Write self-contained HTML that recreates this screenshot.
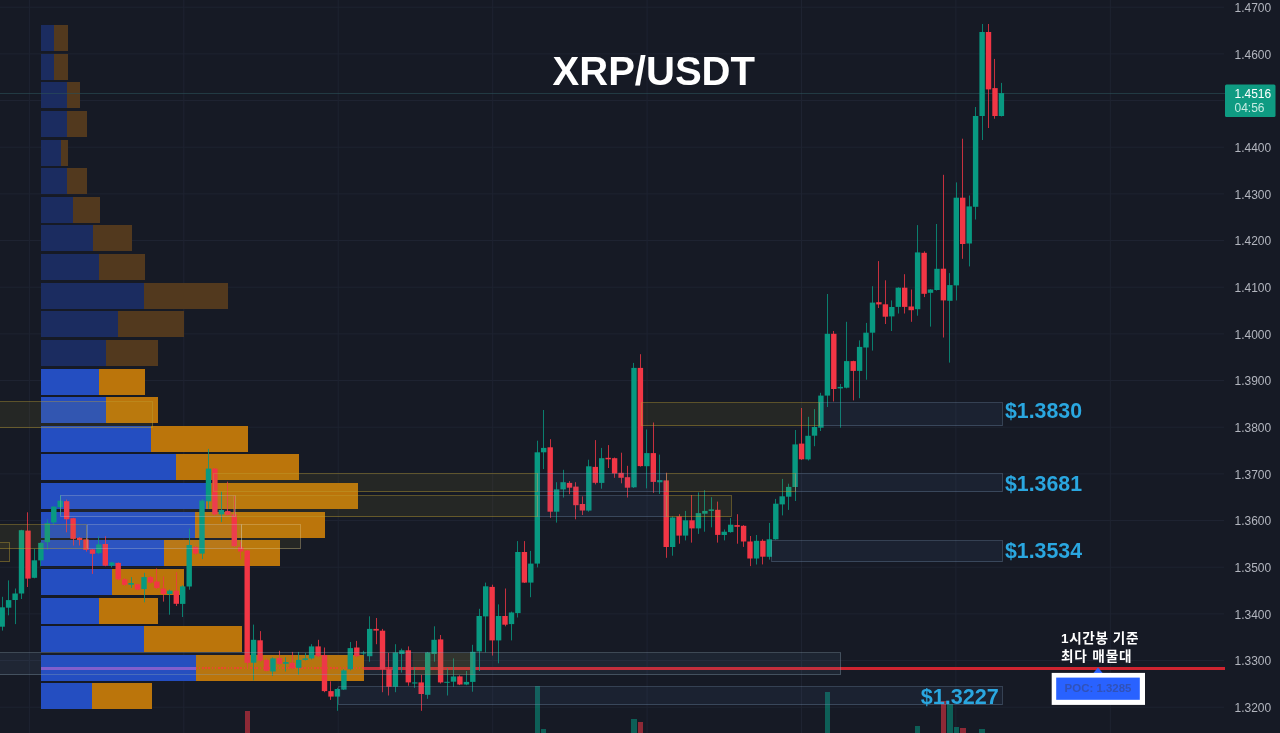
<!DOCTYPE html><html><head><meta charset="utf-8"><title>XRP/USDT</title>
<style>html,body{margin:0;padding:0;background:#161a25;overflow:hidden}svg{display:block}text{font-family:"Liberation Sans","Noto Sans CJK KR",sans-serif}</style></head><body>
<svg width="1280" height="733" viewBox="0 0 1280 733" shape-rendering="crispEdges">
<rect width="1280" height="733" fill="#161a25"/>
<g stroke="#1e2331" stroke-width="1" shape-rendering="auto">
<line x1="0" y1="7.2" x2="1224" y2="7.2"/>
<line x1="0" y1="53.9" x2="1224" y2="53.9"/>
<line x1="0" y1="100.5" x2="1224" y2="100.5"/>
<line x1="0" y1="147.2" x2="1224" y2="147.2"/>
<line x1="0" y1="193.9" x2="1224" y2="193.9"/>
<line x1="0" y1="240.5" x2="1224" y2="240.5"/>
<line x1="0" y1="287.2" x2="1224" y2="287.2"/>
<line x1="0" y1="333.9" x2="1224" y2="333.9"/>
<line x1="0" y1="380.5" x2="1224" y2="380.5"/>
<line x1="0" y1="427.2" x2="1224" y2="427.2"/>
<line x1="0" y1="473.9" x2="1224" y2="473.9"/>
<line x1="0" y1="520.5" x2="1224" y2="520.5"/>
<line x1="0" y1="567.2" x2="1224" y2="567.2"/>
<line x1="0" y1="613.9" x2="1224" y2="613.9"/>
<line x1="0" y1="660.5" x2="1224" y2="660.5"/>
<line x1="0" y1="707.2" x2="1224" y2="707.2"/>
<line x1="29.4" y1="0" x2="29.4" y2="733"/>
<line x1="183.8" y1="0" x2="183.8" y2="733"/>
<line x1="338.2" y1="0" x2="338.2" y2="733"/>
<line x1="492.7" y1="0" x2="492.7" y2="733"/>
<line x1="647.1" y1="0" x2="647.1" y2="733"/>
<line x1="801.5" y1="0" x2="801.5" y2="733"/>
<line x1="955.9" y1="0" x2="955.9" y2="733"/>
<line x1="1110.3" y1="0" x2="1110.3" y2="733"/>
</g>
<rect x="41" y="25.1" width="13" height="26.0" fill="#1b2c60"/>
<rect x="54" y="25.1" width="14" height="26.0" fill="#52391e"/>
<rect x="41" y="53.7" width="13" height="26.0" fill="#1b2c60"/>
<rect x="54" y="53.7" width="14" height="26.0" fill="#52391e"/>
<rect x="41" y="82.3" width="26" height="26.0" fill="#1b2c60"/>
<rect x="67" y="82.3" width="13" height="26.0" fill="#52391e"/>
<rect x="41" y="111.0" width="26" height="26.0" fill="#1b2c60"/>
<rect x="67" y="111.0" width="20" height="26.0" fill="#52391e"/>
<rect x="41" y="139.6" width="20" height="26.0" fill="#1b2c60"/>
<rect x="61" y="139.6" width="7" height="26.0" fill="#52391e"/>
<rect x="41" y="168.2" width="26" height="26.0" fill="#1b2c60"/>
<rect x="67" y="168.2" width="20" height="26.0" fill="#52391e"/>
<rect x="41" y="196.8" width="32" height="26.0" fill="#1b2c60"/>
<rect x="73" y="196.8" width="27" height="26.0" fill="#52391e"/>
<rect x="41" y="225.4" width="51.5" height="26.0" fill="#1b2c60"/>
<rect x="92.5" y="225.4" width="39.5" height="26.0" fill="#52391e"/>
<rect x="41" y="254.1" width="58" height="26.0" fill="#1b2c60"/>
<rect x="99" y="254.1" width="46" height="26.0" fill="#52391e"/>
<rect x="41" y="282.7" width="103" height="26.0" fill="#1b2c60"/>
<rect x="144" y="282.7" width="84" height="26.0" fill="#52391e"/>
<rect x="41" y="311.3" width="77" height="26.0" fill="#1b2c60"/>
<rect x="118" y="311.3" width="66" height="26.0" fill="#52391e"/>
<rect x="41" y="339.9" width="64.5" height="26.0" fill="#1b2c60"/>
<rect x="105.5" y="339.9" width="52.5" height="26.0" fill="#52391e"/>
<rect x="41" y="368.5" width="58" height="26.0" fill="#244ec1"/>
<rect x="99" y="368.5" width="46" height="26.0" fill="#bb750b"/>
<rect x="41" y="397.2" width="64.5" height="26.0" fill="#244ec1"/>
<rect x="105.5" y="397.2" width="52.5" height="26.0" fill="#bb750b"/>
<rect x="41" y="425.8" width="110" height="26.0" fill="#244ec1"/>
<rect x="151" y="425.8" width="97" height="26.0" fill="#bb750b"/>
<rect x="41" y="454.4" width="135" height="26.0" fill="#244ec1"/>
<rect x="176" y="454.4" width="123" height="26.0" fill="#bb750b"/>
<rect x="41" y="483.0" width="165" height="26.0" fill="#244ec1"/>
<rect x="206" y="483.0" width="151.5" height="26.0" fill="#bb750b"/>
<rect x="41" y="511.6" width="154" height="26.0" fill="#244ec1"/>
<rect x="195" y="511.6" width="130" height="26.0" fill="#bb750b"/>
<rect x="41" y="540.3" width="122.5" height="26.0" fill="#244ec1"/>
<rect x="163.5" y="540.3" width="116.5" height="26.0" fill="#bb750b"/>
<rect x="41" y="568.9" width="71" height="26.0" fill="#244ec1"/>
<rect x="112" y="568.9" width="72" height="26.0" fill="#bb750b"/>
<rect x="41" y="597.5" width="58" height="26.0" fill="#244ec1"/>
<rect x="99" y="597.5" width="58.5" height="26.0" fill="#bb750b"/>
<rect x="41" y="626.1" width="103" height="26.0" fill="#244ec1"/>
<rect x="144" y="626.1" width="98" height="26.0" fill="#bb750b"/>
<rect x="41" y="654.7" width="154.5" height="26.0" fill="#244ec1"/>
<rect x="195.5" y="654.7" width="168" height="26.0" fill="#bb750b"/>
<rect x="41" y="683.4" width="51" height="26.0" fill="#244ec1"/>
<rect x="92" y="683.4" width="59.5" height="26.0" fill="#bb750b"/>
<rect x="41" y="666.9" width="154.5" height="2.6" fill="#8a5fd0" opacity="0.95"/>
<line x1="195.5" y1="668.2" x2="363.5" y2="668.2" stroke="#f2452c" stroke-width="1.8" stroke-dasharray="1.6 1.6" opacity="0.9"/>
<rect x="363.5" y="666.9" width="861.5" height="2.6" fill="#cf2430"/>
<line x1="0" y1="93.5" x2="1225" y2="93.5" stroke="#2a5058" stroke-width="1" opacity="0.6"/>
<rect x="244.5" y="711.0" width="5.4" height="22.0" fill="rgba(242,54,69,0.55)"/>
<rect x="534.6" y="686.0" width="5.4" height="47.0" fill="rgba(8,153,129,0.55)"/>
<rect x="541.0" y="729.0" width="5.4" height="4.0" fill="rgba(8,153,129,0.55)"/>
<rect x="631.3" y="719.0" width="5.4" height="14.0" fill="rgba(8,153,129,0.55)"/>
<rect x="637.7" y="722.0" width="5.4" height="11.0" fill="rgba(242,54,69,0.55)"/>
<rect x="824.7" y="692.0" width="5.4" height="41.0" fill="rgba(8,153,129,0.55)"/>
<rect x="914.9" y="726.0" width="5.4" height="7.0" fill="rgba(8,153,129,0.55)"/>
<rect x="940.7" y="700.5" width="5.4" height="32.5" fill="rgba(242,54,69,0.55)"/>
<rect x="947.1" y="704.0" width="5.4" height="29.0" fill="rgba(8,153,129,0.55)"/>
<rect x="953.6" y="727.0" width="5.4" height="6.0" fill="rgba(8,153,129,0.55)"/>
<rect x="960.1" y="728.0" width="5.4" height="5.0" fill="rgba(242,54,69,0.55)"/>
<rect x="979.4" y="729.0" width="5.4" height="4.0" fill="rgba(8,153,129,0.55)"/>
<g shape-rendering="auto">
<rect x="2.0" y="596.8" width="1" height="33.8" fill="#089981" opacity="0.8"/>
<rect x="-0.5" y="607.3" width="5.4" height="19.4" fill="#089981"/>
<rect x="8.0" y="580.4" width="1" height="34.9" fill="#089981" opacity="0.8"/>
<rect x="5.9" y="600.1" width="5.4" height="7.6" fill="#089981"/>
<rect x="15.0" y="588.5" width="1" height="35.6" fill="#089981" opacity="0.8"/>
<rect x="12.4" y="593.5" width="5.4" height="6.5" fill="#089981"/>
<rect x="21.0" y="529.8" width="1" height="69.2" fill="#089981" opacity="0.8"/>
<rect x="18.8" y="530.2" width="5.4" height="63.3" fill="#089981"/>
<rect x="27.0" y="512.3" width="1" height="74.7" fill="#f23645" opacity="0.8"/>
<rect x="25.3" y="530.6" width="5.4" height="48.0" fill="#f23645"/>
<rect x="34.0" y="548.8" width="1" height="29.5" fill="#089981" opacity="0.8"/>
<rect x="31.7" y="560.3" width="5.4" height="17.5" fill="#089981"/>
<rect x="40.0" y="542.4" width="1" height="23.8" fill="#089981" opacity="0.8"/>
<rect x="38.2" y="542.9" width="5.4" height="17.5" fill="#089981"/>
<rect x="47.0" y="519.3" width="1" height="30.6" fill="#089981" opacity="0.8"/>
<rect x="44.6" y="523.2" width="5.4" height="19.0" fill="#089981"/>
<rect x="53.0" y="506.2" width="1" height="18.6" fill="#089981" opacity="0.8"/>
<rect x="51.1" y="506.6" width="5.4" height="15.9" fill="#089981"/>
<rect x="60.0" y="495.3" width="1" height="19.6" fill="#089981" opacity="0.8"/>
<rect x="57.5" y="500.7" width="5.4" height="6.5" fill="#089981"/>
<rect x="66.0" y="499.6" width="1" height="32.7" fill="#f23645" opacity="0.8"/>
<rect x="64.0" y="501.2" width="5.4" height="18.1" fill="#f23645"/>
<rect x="73.0" y="517.8" width="1" height="27.7" fill="#f23645" opacity="0.8"/>
<rect x="70.4" y="518.2" width="5.4" height="20.7" fill="#f23645"/>
<rect x="79.0" y="537.2" width="1" height="8.3" fill="#f23645" opacity="0.8"/>
<rect x="76.9" y="537.8" width="5.4" height="2.2" fill="#f23645"/>
<rect x="86.0" y="537.8" width="1" height="13.8" fill="#f23645" opacity="0.8"/>
<rect x="83.3" y="539.4" width="5.4" height="10.5" fill="#f23645"/>
<rect x="92.0" y="549.0" width="1" height="24.9" fill="#f23645" opacity="0.8"/>
<rect x="89.8" y="549.4" width="5.4" height="4.4" fill="#f23645"/>
<rect x="98.0" y="536.3" width="1" height="17.9" fill="#089981" opacity="0.8"/>
<rect x="96.2" y="544.4" width="5.4" height="8.7" fill="#089981"/>
<rect x="105.0" y="536.3" width="1" height="29.9" fill="#f23645" opacity="0.8"/>
<rect x="102.6" y="544.0" width="5.4" height="21.6" fill="#f23645"/>
<rect x="111.0" y="561.9" width="1" height="5.5" fill="#089981" opacity="0.8"/>
<rect x="109.1" y="562.5" width="5.4" height="3.1" fill="#089981"/>
<rect x="118.0" y="562.5" width="1" height="17.9" fill="#f23645" opacity="0.8"/>
<rect x="115.5" y="562.9" width="5.4" height="16.4" fill="#f23645"/>
<rect x="124.0" y="578.2" width="1" height="7.6" fill="#f23645" opacity="0.8"/>
<rect x="122.0" y="579.3" width="5.4" height="5.5" fill="#f23645"/>
<rect x="131.0" y="577.1" width="1" height="10.9" fill="#089981" opacity="0.8"/>
<rect x="128.4" y="583.0" width="5.4" height="1.7" fill="#089981"/>
<rect x="137.0" y="583.7" width="1" height="6.5" fill="#f23645" opacity="0.8"/>
<rect x="134.9" y="584.3" width="5.4" height="5.2" fill="#f23645"/>
<rect x="144.0" y="572.8" width="1" height="29.5" fill="#089981" opacity="0.8"/>
<rect x="141.3" y="577.1" width="5.4" height="12.0" fill="#089981"/>
<rect x="150.0" y="576.0" width="1" height="7.6" fill="#f23645" opacity="0.8"/>
<rect x="147.8" y="577.1" width="5.4" height="5.5" fill="#f23645"/>
<rect x="156.0" y="568.4" width="1" height="20.7" fill="#f23645" opacity="0.8"/>
<rect x="154.2" y="581.5" width="5.4" height="6.5" fill="#f23645"/>
<rect x="163.0" y="576.5" width="1" height="25.1" fill="#f23645" opacity="0.8"/>
<rect x="160.7" y="588.6" width="5.4" height="5.5" fill="#f23645"/>
<rect x="169.0" y="589.6" width="1" height="25.1" fill="#089981" opacity="0.8"/>
<rect x="167.1" y="590.7" width="5.4" height="3.3" fill="#089981"/>
<rect x="176.0" y="572.2" width="1" height="33.8" fill="#f23645" opacity="0.8"/>
<rect x="173.6" y="590.7" width="5.4" height="13.1" fill="#f23645"/>
<rect x="182.0" y="585.3" width="1" height="31.7" fill="#089981" opacity="0.8"/>
<rect x="180.0" y="586.4" width="5.4" height="17.5" fill="#089981"/>
<rect x="189.0" y="528.6" width="1" height="61.1" fill="#089981" opacity="0.8"/>
<rect x="186.5" y="545.0" width="5.4" height="41.5" fill="#089981"/>
<rect x="195.0" y="546.0" width="1" height="8.7" fill="#f23645" opacity="0.8"/>
<rect x="192.9" y="547.1" width="5.4" height="6.5" fill="#f23645"/>
<rect x="202.0" y="499.1" width="1" height="60.0" fill="#089981" opacity="0.8"/>
<rect x="199.3" y="500.6" width="5.4" height="53.0" fill="#089981"/>
<rect x="208.0" y="448.9" width="1" height="60.0" fill="#089981" opacity="0.8"/>
<rect x="205.8" y="468.6" width="5.4" height="32.7" fill="#089981"/>
<rect x="214.0" y="468.1" width="1" height="47.4" fill="#f23645" opacity="0.8"/>
<rect x="212.2" y="468.6" width="5.4" height="45.8" fill="#f23645"/>
<rect x="221.0" y="491.5" width="1" height="30.6" fill="#089981" opacity="0.8"/>
<rect x="218.7" y="510.0" width="5.4" height="4.4" fill="#089981"/>
<rect x="227.0" y="481.7" width="1" height="33.8" fill="#f23645" opacity="0.8"/>
<rect x="225.1" y="511.1" width="5.4" height="3.7" fill="#f23645"/>
<rect x="234.0" y="495.8" width="1" height="51.3" fill="#f23645" opacity="0.8"/>
<rect x="231.6" y="514.4" width="5.4" height="31.7" fill="#f23645"/>
<rect x="240.0" y="541.7" width="1" height="17.5" fill="#f23645" opacity="0.8"/>
<rect x="238.0" y="547.1" width="5.4" height="4.4" fill="#f23645"/>
<rect x="247.0" y="550.0" width="1" height="117.0" fill="#f23645" opacity="0.8"/>
<rect x="244.5" y="550.5" width="5.4" height="112.3" fill="#f23645"/>
<rect x="253.0" y="624.6" width="1" height="55.7" fill="#089981" opacity="0.8"/>
<rect x="250.9" y="639.8" width="5.4" height="22.9" fill="#089981"/>
<rect x="260.0" y="631.1" width="1" height="30.6" fill="#f23645" opacity="0.8"/>
<rect x="257.4" y="640.3" width="5.4" height="20.3" fill="#f23645"/>
<rect x="266.0" y="658.4" width="1" height="13.1" fill="#f23645" opacity="0.8"/>
<rect x="263.8" y="659.9" width="5.4" height="10.9" fill="#f23645"/>
<rect x="272.0" y="657.3" width="1" height="18.6" fill="#089981" opacity="0.8"/>
<rect x="270.3" y="658.4" width="5.4" height="13.1" fill="#089981"/>
<rect x="279.0" y="650.8" width="1" height="14.2" fill="#f23645" opacity="0.8"/>
<rect x="276.7" y="658.0" width="5.4" height="5.9" fill="#f23645"/>
<rect x="285.0" y="657.3" width="1" height="14.2" fill="#089981" opacity="0.8"/>
<rect x="283.2" y="662.1" width="5.4" height="1.7" fill="#089981"/>
<rect x="292.0" y="651.9" width="1" height="17.5" fill="#f23645" opacity="0.8"/>
<rect x="289.6" y="662.8" width="5.4" height="5.5" fill="#f23645"/>
<rect x="298.0" y="651.9" width="1" height="22.9" fill="#089981" opacity="0.8"/>
<rect x="296.0" y="659.9" width="5.4" height="7.9" fill="#089981"/>
<rect x="305.0" y="652.9" width="1" height="7.6" fill="#089981" opacity="0.8"/>
<rect x="302.5" y="658.4" width="5.4" height="1.5" fill="#089981"/>
<rect x="311.0" y="644.2" width="1" height="15.3" fill="#089981" opacity="0.8"/>
<rect x="308.9" y="646.4" width="5.4" height="12.0" fill="#089981"/>
<rect x="318.0" y="639.8" width="1" height="17.5" fill="#f23645" opacity="0.8"/>
<rect x="315.4" y="646.4" width="5.4" height="9.8" fill="#f23645"/>
<rect x="324.0" y="647.5" width="1" height="44.7" fill="#f23645" opacity="0.8"/>
<rect x="321.8" y="655.1" width="5.4" height="36.0" fill="#f23645"/>
<rect x="330.0" y="681.3" width="1" height="18.6" fill="#f23645" opacity="0.8"/>
<rect x="328.3" y="691.1" width="5.4" height="5.5" fill="#f23645"/>
<rect x="337.0" y="687.9" width="1" height="22.9" fill="#089981" opacity="0.8"/>
<rect x="334.7" y="689.0" width="5.4" height="7.6" fill="#089981"/>
<rect x="343.0" y="669.3" width="1" height="20.7" fill="#089981" opacity="0.8"/>
<rect x="341.2" y="670.4" width="5.4" height="19.2" fill="#089981"/>
<rect x="350.0" y="642.0" width="1" height="28.4" fill="#089981" opacity="0.8"/>
<rect x="347.6" y="648.1" width="5.4" height="21.2" fill="#089981"/>
<rect x="356.0" y="640.9" width="1" height="16.4" fill="#f23645" opacity="0.8"/>
<rect x="354.1" y="647.5" width="5.4" height="8.7" fill="#f23645"/>
<rect x="363.0" y="650.8" width="1" height="4.4" fill="#089981" opacity="0.8"/>
<rect x="360.5" y="652.5" width="5.4" height="1.0" fill="#089981"/>
<rect x="369.0" y="616.3" width="1" height="45.4" fill="#089981" opacity="0.8"/>
<rect x="367.0" y="628.9" width="5.4" height="27.3" fill="#089981"/>
<rect x="376.0" y="618.0" width="1" height="26.2" fill="#f23645" opacity="0.8"/>
<rect x="373.4" y="628.9" width="5.4" height="1.7" fill="#f23645"/>
<rect x="382.0" y="628.9" width="1" height="63.3" fill="#f23645" opacity="0.8"/>
<rect x="379.8" y="630.7" width="5.4" height="38.6" fill="#f23645"/>
<rect x="388.0" y="652.9" width="1" height="42.6" fill="#f23645" opacity="0.8"/>
<rect x="386.3" y="669.3" width="5.4" height="17.5" fill="#f23645"/>
<rect x="395.0" y="644.2" width="1" height="48.0" fill="#089981" opacity="0.8"/>
<rect x="392.7" y="652.5" width="5.4" height="34.3" fill="#089981"/>
<rect x="401.0" y="648.6" width="1" height="24.0" fill="#089981" opacity="0.8"/>
<rect x="399.2" y="650.3" width="5.4" height="3.7" fill="#089981"/>
<rect x="408.0" y="646.4" width="1" height="39.3" fill="#f23645" opacity="0.8"/>
<rect x="405.6" y="650.3" width="5.4" height="32.1" fill="#f23645"/>
<rect x="414.0" y="667.1" width="1" height="20.7" fill="#089981" opacity="0.8"/>
<rect x="412.1" y="682.4" width="5.4" height="1.1" fill="#089981"/>
<rect x="421.0" y="674.8" width="1" height="36.0" fill="#f23645" opacity="0.8"/>
<rect x="418.5" y="682.4" width="5.4" height="11.6" fill="#f23645"/>
<rect x="427.0" y="651.9" width="1" height="46.9" fill="#089981" opacity="0.8"/>
<rect x="425.0" y="652.5" width="5.4" height="42.3" fill="#089981"/>
<rect x="434.0" y="626.3" width="1" height="35.4" fill="#089981" opacity="0.8"/>
<rect x="431.4" y="639.8" width="5.4" height="14.2" fill="#089981"/>
<rect x="440.0" y="635.0" width="1" height="48.5" fill="#f23645" opacity="0.8"/>
<rect x="437.9" y="639.4" width="5.4" height="43.0" fill="#f23645"/>
<rect x="447.0" y="668.2" width="1" height="27.3" fill="#089981" opacity="0.8"/>
<rect x="444.3" y="681.8" width="5.4" height="1.0" fill="#089981"/>
<rect x="453.0" y="658.4" width="1" height="28.4" fill="#089981" opacity="0.8"/>
<rect x="450.8" y="676.5" width="5.4" height="5.2" fill="#089981"/>
<rect x="459.0" y="675.3" width="1" height="9.8" fill="#f23645" opacity="0.8"/>
<rect x="457.2" y="676.4" width="5.4" height="8.1" fill="#f23645"/>
<rect x="466.0" y="671.0" width="1" height="14.2" fill="#089981" opacity="0.8"/>
<rect x="463.7" y="681.9" width="5.4" height="2.6" fill="#089981"/>
<rect x="472.0" y="644.8" width="1" height="46.9" fill="#089981" opacity="0.8"/>
<rect x="470.1" y="651.8" width="5.4" height="30.1" fill="#089981"/>
<rect x="479.0" y="608.8" width="1" height="62.2" fill="#089981" opacity="0.8"/>
<rect x="476.5" y="616.0" width="5.4" height="35.4" fill="#089981"/>
<rect x="485.0" y="582.6" width="1" height="69.8" fill="#089981" opacity="0.8"/>
<rect x="483.0" y="586.3" width="5.4" height="30.1" fill="#089981"/>
<rect x="492.0" y="584.7" width="1" height="70.9" fill="#f23645" opacity="0.8"/>
<rect x="489.4" y="586.9" width="5.4" height="53.5" fill="#f23645"/>
<rect x="498.0" y="604.4" width="1" height="58.9" fill="#089981" opacity="0.8"/>
<rect x="495.9" y="616.0" width="5.4" height="24.4" fill="#089981"/>
<rect x="505.0" y="588.5" width="1" height="37.8" fill="#f23645" opacity="0.8"/>
<rect x="502.3" y="616.0" width="5.4" height="8.7" fill="#f23645"/>
<rect x="511.0" y="611.6" width="1" height="28.8" fill="#089981" opacity="0.8"/>
<rect x="508.8" y="612.5" width="5.4" height="11.6" fill="#089981"/>
<rect x="517.0" y="541.1" width="1" height="76.4" fill="#089981" opacity="0.8"/>
<rect x="515.2" y="552.0" width="5.4" height="61.1" fill="#089981"/>
<rect x="524.0" y="541.1" width="1" height="41.9" fill="#f23645" opacity="0.8"/>
<rect x="521.7" y="552.0" width="5.4" height="30.6" fill="#f23645"/>
<rect x="530.0" y="550.9" width="1" height="46.3" fill="#089981" opacity="0.8"/>
<rect x="528.1" y="563.6" width="5.4" height="19.0" fill="#089981"/>
<rect x="537.0" y="440.7" width="1" height="126.7" fill="#089981" opacity="0.8"/>
<rect x="534.6" y="452.3" width="5.4" height="111.3" fill="#089981"/>
<rect x="543.0" y="410.0" width="1" height="59.1" fill="#089981" opacity="0.8"/>
<rect x="541.0" y="447.9" width="5.4" height="4.4" fill="#089981"/>
<rect x="550.0" y="439.2" width="1" height="78.6" fill="#f23645" opacity="0.8"/>
<rect x="547.5" y="447.3" width="5.4" height="64.4" fill="#f23645"/>
<rect x="556.0" y="482.2" width="1" height="40.4" fill="#089981" opacity="0.8"/>
<rect x="553.9" y="489.4" width="5.4" height="22.3" fill="#089981"/>
<rect x="563.0" y="469.8" width="1" height="27.7" fill="#089981" opacity="0.8"/>
<rect x="560.4" y="482.2" width="5.4" height="7.2" fill="#089981"/>
<rect x="569.0" y="481.1" width="1" height="13.1" fill="#f23645" opacity="0.8"/>
<rect x="566.8" y="482.9" width="5.4" height="4.8" fill="#f23645"/>
<rect x="575.0" y="482.2" width="1" height="37.1" fill="#f23645" opacity="0.8"/>
<rect x="573.2" y="486.6" width="5.4" height="18.6" fill="#f23645"/>
<rect x="582.0" y="496.4" width="1" height="18.6" fill="#f23645" opacity="0.8"/>
<rect x="579.7" y="504.0" width="5.4" height="6.5" fill="#f23645"/>
<rect x="588.0" y="459.7" width="1" height="52.0" fill="#089981" opacity="0.8"/>
<rect x="586.1" y="466.3" width="5.4" height="44.3" fill="#089981"/>
<rect x="595.0" y="440.1" width="1" height="44.3" fill="#f23645" opacity="0.8"/>
<rect x="592.6" y="466.9" width="5.4" height="15.9" fill="#f23645"/>
<rect x="601.0" y="447.9" width="1" height="40.8" fill="#089981" opacity="0.8"/>
<rect x="599.0" y="458.2" width="5.4" height="24.7" fill="#089981"/>
<rect x="608.0" y="445.1" width="1" height="22.9" fill="#f23645" opacity="0.8"/>
<rect x="605.5" y="457.8" width="5.4" height="1.5" fill="#f23645"/>
<rect x="614.0" y="457.5" width="1" height="20.3" fill="#f23645" opacity="0.8"/>
<rect x="611.9" y="458.2" width="5.4" height="15.3" fill="#f23645"/>
<rect x="621.0" y="452.7" width="1" height="30.6" fill="#f23645" opacity="0.8"/>
<rect x="618.4" y="472.8" width="5.4" height="5.0" fill="#f23645"/>
<rect x="627.0" y="465.8" width="1" height="31.7" fill="#f23645" opacity="0.8"/>
<rect x="624.8" y="477.2" width="5.4" height="10.5" fill="#f23645"/>
<rect x="633.0" y="362.9" width="1" height="125.1" fill="#089981" opacity="0.8"/>
<rect x="631.3" y="367.9" width="5.4" height="119.4" fill="#089981"/>
<rect x="640.0" y="354.2" width="1" height="112.4" fill="#f23645" opacity="0.8"/>
<rect x="637.7" y="367.9" width="5.4" height="98.2" fill="#f23645"/>
<rect x="646.0" y="429.5" width="1" height="58.9" fill="#089981" opacity="0.8"/>
<rect x="644.2" y="453.1" width="5.4" height="13.1" fill="#089981"/>
<rect x="653.0" y="422.5" width="1" height="70.3" fill="#f23645" opacity="0.8"/>
<rect x="650.6" y="453.1" width="5.4" height="28.8" fill="#f23645"/>
<rect x="659.0" y="454.6" width="1" height="39.3" fill="#089981" opacity="0.8"/>
<rect x="657.1" y="480.1" width="5.4" height="2.2" fill="#089981"/>
<rect x="666.0" y="472.7" width="1" height="85.1" fill="#f23645" opacity="0.8"/>
<rect x="663.5" y="480.4" width="5.4" height="66.6" fill="#f23645"/>
<rect x="672.0" y="516.4" width="1" height="39.3" fill="#089981" opacity="0.8"/>
<rect x="669.9" y="517.5" width="5.4" height="29.5" fill="#089981"/>
<rect x="679.0" y="514.2" width="1" height="29.5" fill="#f23645" opacity="0.8"/>
<rect x="676.4" y="516.4" width="5.4" height="19.2" fill="#f23645"/>
<rect x="685.0" y="510.9" width="1" height="29.5" fill="#089981" opacity="0.8"/>
<rect x="682.8" y="520.3" width="5.4" height="15.3" fill="#089981"/>
<rect x="691.0" y="495.0" width="1" height="47.6" fill="#f23645" opacity="0.8"/>
<rect x="689.3" y="520.3" width="5.4" height="8.1" fill="#f23645"/>
<rect x="698.0" y="492.4" width="1" height="41.5" fill="#089981" opacity="0.8"/>
<rect x="695.7" y="513.1" width="5.4" height="15.3" fill="#089981"/>
<rect x="704.0" y="490.2" width="1" height="41.5" fill="#089981" opacity="0.8"/>
<rect x="702.2" y="510.9" width="5.4" height="2.8" fill="#089981"/>
<rect x="711.0" y="497.2" width="1" height="30.1" fill="#089981" opacity="0.8"/>
<rect x="708.6" y="509.4" width="5.4" height="1.5" fill="#089981"/>
<rect x="717.0" y="501.6" width="1" height="41.0" fill="#f23645" opacity="0.8"/>
<rect x="715.1" y="509.8" width="5.4" height="25.1" fill="#f23645"/>
<rect x="724.0" y="529.5" width="1" height="10.9" fill="#089981" opacity="0.8"/>
<rect x="721.5" y="531.7" width="5.4" height="3.3" fill="#089981"/>
<rect x="730.0" y="518.1" width="1" height="14.6" fill="#089981" opacity="0.8"/>
<rect x="728.0" y="524.7" width="5.4" height="7.4" fill="#089981"/>
<rect x="737.0" y="514.2" width="1" height="29.5" fill="#f23645" opacity="0.8"/>
<rect x="734.4" y="525.1" width="5.4" height="1.7" fill="#f23645"/>
<rect x="743.0" y="525.1" width="1" height="21.8" fill="#f23645" opacity="0.8"/>
<rect x="740.9" y="525.8" width="5.4" height="15.7" fill="#f23645"/>
<rect x="750.0" y="536.0" width="1" height="30.1" fill="#f23645" opacity="0.8"/>
<rect x="747.3" y="541.5" width="5.4" height="17.0" fill="#f23645"/>
<rect x="756.0" y="535.0" width="1" height="29.5" fill="#089981" opacity="0.8"/>
<rect x="753.8" y="540.8" width="5.4" height="17.7" fill="#089981"/>
<rect x="762.0" y="539.3" width="1" height="25.1" fill="#f23645" opacity="0.8"/>
<rect x="760.2" y="540.8" width="5.4" height="15.9" fill="#f23645"/>
<rect x="769.0" y="522.9" width="1" height="36.7" fill="#089981" opacity="0.8"/>
<rect x="766.6" y="539.3" width="5.4" height="17.5" fill="#089981"/>
<rect x="775.0" y="498.9" width="1" height="40.8" fill="#089981" opacity="0.8"/>
<rect x="773.1" y="503.7" width="5.4" height="35.6" fill="#089981"/>
<rect x="782.0" y="478.9" width="1" height="36.5" fill="#089981" opacity="0.8"/>
<rect x="779.5" y="496.3" width="5.4" height="8.1" fill="#089981"/>
<rect x="788.0" y="483.7" width="1" height="26.2" fill="#089981" opacity="0.8"/>
<rect x="786.0" y="486.9" width="5.4" height="9.8" fill="#089981"/>
<rect x="795.0" y="430.0" width="1" height="71.0" fill="#089981" opacity="0.8"/>
<rect x="792.4" y="444.4" width="5.4" height="42.6" fill="#089981"/>
<rect x="801.0" y="408.0" width="1" height="52.0" fill="#f23645" opacity="0.8"/>
<rect x="798.9" y="443.6" width="5.4" height="15.7" fill="#f23645"/>
<rect x="808.0" y="416.8" width="1" height="43.7" fill="#089981" opacity="0.8"/>
<rect x="805.3" y="435.8" width="5.4" height="23.6" fill="#089981"/>
<rect x="814.0" y="409.1" width="1" height="37.1" fill="#089981" opacity="0.8"/>
<rect x="811.8" y="427.0" width="5.4" height="8.7" fill="#089981"/>
<rect x="820.0" y="392.8" width="1" height="38.2" fill="#089981" opacity="0.8"/>
<rect x="818.2" y="395.6" width="5.4" height="32.1" fill="#089981"/>
<rect x="827.0" y="294.0" width="1" height="113.0" fill="#089981" opacity="0.8"/>
<rect x="824.7" y="333.8" width="5.4" height="61.8" fill="#089981"/>
<rect x="833.0" y="331.0" width="1" height="70.5" fill="#f23645" opacity="0.8"/>
<rect x="831.1" y="333.8" width="5.4" height="55.2" fill="#f23645"/>
<rect x="840.0" y="384.0" width="1" height="43.7" fill="#089981" opacity="0.8"/>
<rect x="837.6" y="386.9" width="5.4" height="1.5" fill="#089981"/>
<rect x="846.0" y="321.8" width="1" height="66.6" fill="#089981" opacity="0.8"/>
<rect x="844.0" y="361.1" width="5.4" height="26.6" fill="#089981"/>
<rect x="853.0" y="360.7" width="1" height="39.7" fill="#f23645" opacity="0.8"/>
<rect x="850.5" y="361.1" width="5.4" height="9.8" fill="#f23645"/>
<rect x="859.0" y="340.4" width="1" height="57.8" fill="#089981" opacity="0.8"/>
<rect x="856.9" y="346.9" width="5.4" height="24.0" fill="#089981"/>
<rect x="866.0" y="322.9" width="1" height="56.8" fill="#089981" opacity="0.8"/>
<rect x="863.3" y="332.7" width="5.4" height="14.8" fill="#089981"/>
<rect x="872.0" y="286.2" width="1" height="64.4" fill="#089981" opacity="0.8"/>
<rect x="869.8" y="302.6" width="5.4" height="30.1" fill="#089981"/>
<rect x="878.0" y="261.1" width="1" height="46.9" fill="#f23645" opacity="0.8"/>
<rect x="876.2" y="302.2" width="5.4" height="2.2" fill="#f23645"/>
<rect x="885.0" y="280.3" width="1" height="43.7" fill="#f23645" opacity="0.8"/>
<rect x="882.7" y="304.3" width="5.4" height="12.4" fill="#f23645"/>
<rect x="891.0" y="300.4" width="1" height="30.6" fill="#089981" opacity="0.8"/>
<rect x="889.1" y="307.0" width="5.4" height="9.4" fill="#089981"/>
<rect x="898.0" y="287.3" width="1" height="26.2" fill="#089981" opacity="0.8"/>
<rect x="895.6" y="287.7" width="5.4" height="19.2" fill="#089981"/>
<rect x="904.0" y="274.2" width="1" height="39.3" fill="#f23645" opacity="0.8"/>
<rect x="902.0" y="287.7" width="5.4" height="19.2" fill="#f23645"/>
<rect x="911.0" y="289.5" width="1" height="32.3" fill="#f23645" opacity="0.8"/>
<rect x="908.5" y="306.5" width="5.4" height="3.7" fill="#f23645"/>
<rect x="917.0" y="225.1" width="1" height="90.6" fill="#089981" opacity="0.8"/>
<rect x="914.9" y="252.4" width="5.4" height="56.8" fill="#089981"/>
<rect x="924.0" y="251.3" width="1" height="45.8" fill="#f23645" opacity="0.8"/>
<rect x="921.4" y="252.8" width="5.4" height="41.0" fill="#f23645"/>
<rect x="930.0" y="289.1" width="1" height="37.5" fill="#089981" opacity="0.8"/>
<rect x="927.8" y="289.5" width="5.4" height="3.3" fill="#089981"/>
<rect x="936.0" y="224.0" width="1" height="66.6" fill="#089981" opacity="0.8"/>
<rect x="934.3" y="268.8" width="5.4" height="21.2" fill="#089981"/>
<rect x="943.0" y="174.8" width="1" height="162.7" fill="#f23645" opacity="0.8"/>
<rect x="940.7" y="268.7" width="5.4" height="31.7" fill="#f23645"/>
<rect x="949.0" y="273.1" width="1" height="89.5" fill="#089981" opacity="0.8"/>
<rect x="947.2" y="285.1" width="5.4" height="15.7" fill="#089981"/>
<rect x="956.0" y="182.4" width="1" height="118.0" fill="#089981" opacity="0.8"/>
<rect x="953.6" y="197.7" width="5.4" height="87.7" fill="#089981"/>
<rect x="962.0" y="138.7" width="1" height="120.1" fill="#f23645" opacity="0.8"/>
<rect x="960.0" y="197.7" width="5.4" height="46.3" fill="#f23645"/>
<rect x="969.0" y="195.5" width="1" height="70.9" fill="#089981" opacity="0.8"/>
<rect x="966.5" y="206.4" width="5.4" height="37.1" fill="#089981"/>
<rect x="975.0" y="107.0" width="1" height="112.5" fill="#089981" opacity="0.8"/>
<rect x="972.9" y="116.0" width="5.4" height="90.8" fill="#089981"/>
<rect x="982.0" y="24.0" width="1" height="116.0" fill="#089981" opacity="0.8"/>
<rect x="979.4" y="32.0" width="5.4" height="84.0" fill="#089981"/>
<rect x="988.0" y="24.0" width="1" height="104.0" fill="#f23645" opacity="0.8"/>
<rect x="985.8" y="32.0" width="5.4" height="57.4" fill="#f23645"/>
<rect x="994.0" y="58.9" width="1" height="59.8" fill="#f23645" opacity="0.8"/>
<rect x="992.3" y="88.1" width="5.4" height="27.9" fill="#f23645"/>
<rect x="1001.0" y="82.9" width="1" height="33.6" fill="#089981" opacity="0.8"/>
<rect x="998.7" y="93.1" width="5.4" height="22.9" fill="#089981"/>
</g>
<g>
<rect x="-1.5" y="401.5" width="154.0" height="26.0" fill="rgba(175,155,40,0.10)" stroke="rgba(190,160,50,0.42)" stroke-width="1"/>
<rect x="-1.5" y="524.5" width="88.0" height="24.0" fill="rgba(175,155,40,0.10)" stroke="rgba(190,160,50,0.42)" stroke-width="1"/>
<rect x="-1.5" y="542.5" width="11.0" height="19.0" fill="rgba(175,155,40,0.08)" stroke="rgba(190,160,50,0.42)" stroke-width="1"/>
<rect x="60.5" y="495.5" width="175.0" height="21.0" fill="rgba(150,170,200,0.07)" stroke="rgba(200,205,210,0.30)" stroke-width="1"/>
<rect x="87.0" y="524.5" width="154.5" height="24.0" fill="rgba(150,170,200,0.07)" stroke="rgba(200,205,210,0.30)" stroke-width="1"/>
<rect x="241.5" y="524.5" width="58.5" height="24.0" fill="rgba(175,155,40,0.10)" stroke="rgba(220,200,140,0.38)" stroke-width="1"/>
<rect x="213.5" y="473.5" width="324.0" height="18.0" fill="rgba(175,155,40,0.10)" stroke="rgba(190,160,50,0.42)" stroke-width="1"/>
<rect x="537.5" y="473.5" width="129.0" height="18.0" fill="rgba(80,120,170,0.095)" stroke="rgba(120,150,180,0.32)" stroke-width="1"/>
<rect x="666.5" y="473.5" width="129.0" height="18.0" fill="rgba(175,155,40,0.10)" stroke="rgba(190,160,50,0.42)" stroke-width="1"/>
<rect x="795.5" y="473.5" width="206.5" height="18.0" fill="rgba(80,120,170,0.095)" stroke="rgba(120,150,180,0.32)" stroke-width="1"/>
<rect x="233.5" y="495.5" width="304.0" height="21.0" fill="rgba(175,155,40,0.10)" stroke="rgba(190,160,50,0.42)" stroke-width="1"/>
<rect x="537.5" y="495.5" width="129.0" height="21.0" fill="rgba(80,120,170,0.095)" stroke="rgba(120,150,180,0.32)" stroke-width="1"/>
<rect x="666.5" y="495.5" width="64.5" height="21.0" fill="rgba(175,155,40,0.10)" stroke="rgba(190,160,50,0.42)" stroke-width="1"/>
<rect x="641.0" y="402.5" width="178.5" height="23.0" fill="rgba(175,155,40,0.10)" stroke="rgba(190,160,50,0.42)" stroke-width="1"/>
<rect x="819.5" y="402.5" width="182.5" height="23.0" fill="rgba(80,120,170,0.095)" stroke="rgba(120,150,180,0.32)" stroke-width="1"/>
<rect x="771.5" y="540.5" width="230.5" height="21.0" fill="rgba(80,120,170,0.095)" stroke="rgba(120,150,180,0.32)" stroke-width="1"/>
<rect x="-2" y="653" width="43" height="22" fill="rgba(95,130,165,0.12)"/>
<rect x="41" y="653" width="322.5" height="22" fill="rgba(110,140,160,0.04)"/>
<rect x="363.5" y="653" width="477" height="22" fill="rgba(95,130,165,0.11)"/>
<rect x="-1.5" y="652.5" width="842.0" height="22.0" fill="none" stroke="rgba(140,165,180,0.34)" stroke-width="1"/>
<rect x="412.5" y="652.5" width="60.0" height="22.0" fill="rgba(175,140,30,0.15)" stroke="rgba(190,160,50,0.0)" stroke-width="1"/>
<rect x="338.5" y="686.5" width="663.5" height="18.0" fill="rgba(80,120,170,0.095)" stroke="rgba(120,150,180,0.32)" stroke-width="1"/>
</g>
<g shape-rendering="auto">
<g font-size="12" fill="#b2b5be">
<text x="1234.5" y="11.9">1.4700</text>
<text x="1234.5" y="58.6">1.4600</text>
<text x="1234.5" y="105.2">1.4500</text>
<text x="1234.5" y="151.9">1.4400</text>
<text x="1234.5" y="198.6">1.4300</text>
<text x="1234.5" y="245.2">1.4200</text>
<text x="1234.5" y="291.9">1.4100</text>
<text x="1234.5" y="338.6">1.4000</text>
<text x="1234.5" y="385.2">1.3900</text>
<text x="1234.5" y="431.9">1.3800</text>
<text x="1234.5" y="478.6">1.3700</text>
<text x="1234.5" y="525.2">1.3600</text>
<text x="1234.5" y="571.9">1.3500</text>
<text x="1234.5" y="618.6">1.3400</text>
<text x="1234.5" y="665.2">1.3300</text>
<text x="1234.5" y="711.9">1.3200</text>
</g>
<rect x="1225" y="84.5" width="50.5" height="32.5" rx="1.5" fill="#0f9b82"/>
<text x="1234.5" y="97.8" font-size="12" fill="#ffffff">1.4516</text>
<text x="1234.5" y="111.8" font-size="12" fill="#c4ebe2">04:56</text>
<text x="552.5" y="85.3" font-size="41" font-weight="bold" fill="#ffffff" textLength="202.5" lengthAdjust="spacingAndGlyphs">XRP/USDT</text>
<g font-size="21.5" font-weight="bold" fill="#2aa7e0">
<text x="1005" y="418.2" textLength="77" lengthAdjust="spacingAndGlyphs">$1.3830</text>
<text x="1005" y="490.7" textLength="77" lengthAdjust="spacingAndGlyphs">$1.3681</text>
<text x="1005" y="558.2" textLength="77" lengthAdjust="spacingAndGlyphs">$1.3534</text>
<text x="920.7" y="704.3" textLength="78" lengthAdjust="spacingAndGlyphs">$1.3227</text>
</g>
<g font-size="13.6" font-weight="bold" fill="#ffffff">
<text x="1061" y="643.3" textLength="77.5" lengthAdjust="spacing">1시간봉 기준</text>
<text x="1061" y="660.8" textLength="70.5" lengthAdjust="spacing">최다 매물대</text>
</g>
<path d="M1093 673.5 L1098 667.6 L1103 673.5 Z" fill="#2962ff"/>
<rect x="1051.7" y="672.9" width="93.3" height="32" fill="#ffffff"/>
<rect x="1056.2" y="677.6" width="83.6" height="22.2" fill="#2962ff"/>
<text x="1064.6" y="692" font-size="11.5" font-weight="bold" fill="#3152b8" textLength="66.8" lengthAdjust="spacingAndGlyphs">POC: 1.3285</text>
</g>
</svg></body></html>
